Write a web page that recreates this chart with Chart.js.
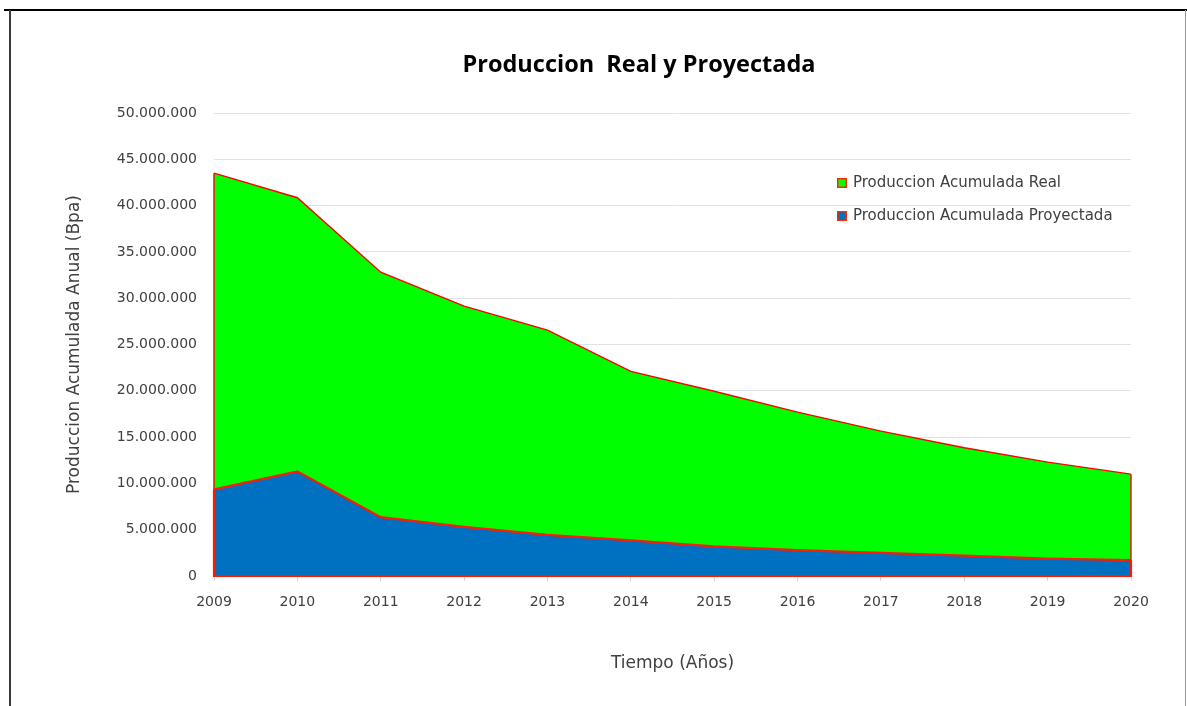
<!DOCTYPE html>
<html>
<head>
<meta charset="utf-8">
<title>Produccion Real y Proyectada</title>
<script src="https://cdn.jsdelivr.net/npm/chart.js@4/dist/chart.umd.min.js"></script>
<style>
  html, body { margin: 0; padding: 0; background: #ffffff; }
  #wrap { position: relative; width: 1187px; height: 706px; }
  canvas { display: block; }
</style>
</head>
<body>
<div id="wrap"><canvas id="chart" width="1187" height="706"></canvas></div>
<script>
// Years on the horizontal axis
const years = ['2009', '2010', '2011', '2012', '2013', '2014', '2015', '2016', '2017', '2018', '2019', '2020'];

// Annual cumulative production, barrels (Bpa)
const produccionReal = [43500000, 40850000, 32800000, 29150000, 26550000, 22100000, 19950000, 17700000, 15650000, 13850000, 12300000, 11000000];
const produccionProyectada = [9350000, 11300000, 6350000, 5300000, 4450000, 3850000, 3200000, 2800000, 2500000, 2200000, 1870000, 1720000];

// Value axis ticks
const yTicks = [0, 5000000, 10000000, 15000000, 20000000, 25000000, 30000000, 35000000, 40000000, 45000000, 50000000];

const seriesNames = ['Produccion Acumulada Real', 'Produccion Acumulada Proyectada'];
const chartTitle = 'Produccion  Real y Proyectada';

const TEXT_FONT = "'DejaVu Sans', sans-serif";
const TEXT_COLOR = '#404040';

// 50.000.000 style thousands grouping
function formatMiles(v) {
  return String(Math.round(v)).replace(/\B(?=(\d{3})+(?!\d))/g, '.');
}

// White page with the frame lines round the chart, plus the heading
const framePlugin = {
  id: 'frame',
  beforeDraw(chart) {
    const ctx = chart.ctx;
    ctx.save();
    ctx.fillStyle = '#ffffff';
    ctx.fillRect(0, 0, chart.width, chart.height);
    ctx.fillStyle = '#000000';
    ctx.fillRect(4, 9, chart.width - 4, 2);
    ctx.fillStyle = '#3a3a3a';
    ctx.fillRect(9, 10, 2, chart.height - 10);
    ctx.fillStyle = '#9a9a9a';
    ctx.fillRect(chart.width - 2, 10, 1, chart.height - 10);

    ctx.fillStyle = '#000000';
    ctx.font = "bold 23.5px 'Open Sans', sans-serif";
    ctx.textAlign = 'center';
    ctx.textBaseline = 'middle';
    ctx.fillText(chartTitle, 639, 65);
    ctx.restore();
  }
};

// Close each filled area with its outline: sides and base line
const areaOutlinePlugin = {
  id: 'areaOutline',
  afterDatasetDraw(chart, args) {
    const meta = args.meta;
    const ds = chart.data.datasets[args.index];
    const pts = meta.data;
    if (!pts.length) return;
    const yScale = chart.scales[meta.yAxisID];
    const base = yScale.getPixelForValue(0);
    const first = pts[0], last = pts[pts.length - 1];
    const ctx = chart.ctx;
    ctx.save();
    ctx.strokeStyle = ds.borderColor;
    ctx.lineWidth = ds.borderWidth;
    ctx.lineJoin = 'miter';
    ctx.beginPath();
    ctx.moveTo(first.x, first.y);
    ctx.lineTo(first.x, base);
    ctx.lineTo(last.x, base);
    ctx.lineTo(last.x, last.y);
    ctx.stroke();
    ctx.restore();
  }
};

// Legend drawn inside the plot area, upper right
const innerLegendPlugin = {
  id: 'innerLegend',
  afterDraw(chart) {
    const area = chart.chartArea;
    const ctx = chart.ctx;
    const x0 = area.left + 623;
    const rows = [area.top + 70, area.top + 103];
    ctx.save();
    ctx.font = "15px " + TEXT_FONT;
    ctx.textBaseline = 'middle';
    ctx.textAlign = 'left';
    seriesNames.forEach((name, i) => {
      const ds = chart.data.datasets.find(d => d.label === name);
      const cy = rows[i];
      ctx.fillStyle = ds.backgroundColor;
      ctx.fillRect(x0, cy - 5, 10, 10);
      ctx.strokeStyle = '#ff2a00';
      ctx.lineWidth = 1.5;
      ctx.strokeRect(x0 + 0.75, cy - 4.25, 8.5, 8.5);
      ctx.fillStyle = TEXT_COLOR;
      ctx.fillText(name, x0 + 16, cy + 0.5);
    });
    ctx.restore();
  }
};

new Chart(document.getElementById('chart'), {
  type: 'line',
  data: {
    labels: years,
    datasets: [
      {
        label: seriesNames[0],
        data: produccionReal,
        backgroundColor: '#00ff00',
        borderColor: '#ff0000',
        borderWidth: 1.4,
        fill: 'origin',
        pointRadius: 0,
        tension: 0,
        order: 1
      },
      {
        label: seriesNames[1],
        data: produccionProyectada,
        backgroundColor: '#0070c0',
        borderColor: '#ff1a00',
        borderWidth: 2.2,
        fill: 'origin',
        pointRadius: 0,
        tension: 0,
        order: 0
      }
    ]
  },
  options: {
    responsive: false,
    animation: false,
    events: [],
    layout: { padding: { left: 60, right: 56, top: 113, bottom: 30 } },
    plugins: {
      legend: { display: false },
      tooltip: { enabled: false },
      title: { display: false }
    },
    scales: {
      x: {
        type: 'category',
        offset: false,
        grid: {
          display: true,
          drawOnChartArea: false,
          drawTicks: true,
          tickLength: 5,
          color: '#d4d8de'
        },
        border: { display: true, color: '#d4d8de' },
        ticks: {
          color: TEXT_COLOR,
          font: { family: TEXT_FONT, size: 14 },
          padding: 13,
          maxRotation: 0,
          autoSkip: false
        },
        title: {
          display: true,
          text: 'Tiempo (Años)',
          color: TEXT_COLOR,
          font: { family: TEXT_FONT, size: 17, lineHeight: 1.2 },
          padding: { top: 4, bottom: 2 }
        },
        afterFit(scale) { scale.height = 100; }
      },
      y: {
        min: 0,
        max: 50000000,
        afterBuildTicks(scale) { scale.ticks = yTicks.map(v => ({ value: v })); },
        grid: {
          color: '#dfe3e9',
          lineWidth: 1,
          drawTicks: false
        },
        border: { display: false },
        ticks: {
          color: TEXT_COLOR,
          font: { family: TEXT_FONT, size: 14 },
          padding: 17,
          callback: (v) => formatMiles(v)
        },
        title: {
          display: true,
          text: 'Produccion Acumulada Anual (Bpa)',
          color: TEXT_COLOR,
          font: { family: TEXT_FONT, size: 17, lineHeight: 1.2 },
          padding: { top: 4, bottom: 4 }
        },
        afterFit(scale) { scale.width = 154; }
      }
    }
  },
  plugins: [framePlugin, areaOutlinePlugin, innerLegendPlugin]
});
</script>
</body>
</html>
